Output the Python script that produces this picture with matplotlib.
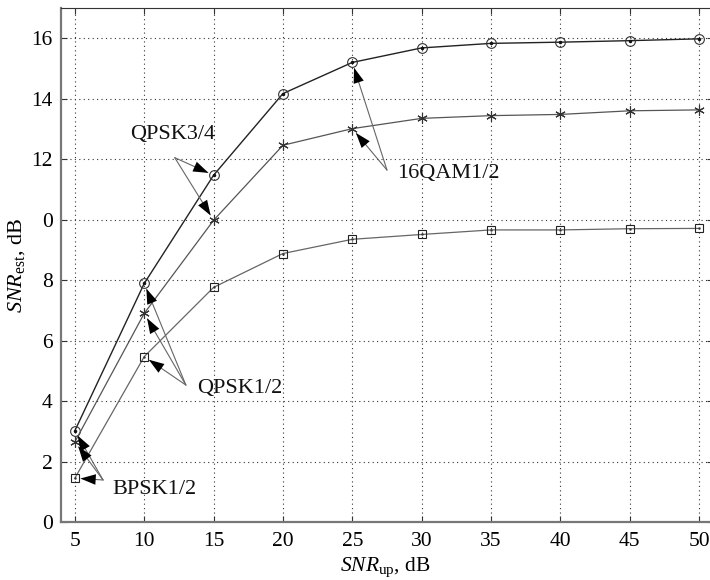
import matplotlib
matplotlib.use("Agg")
import matplotlib.pyplot as plt

# --- Data ---
snr_up = [5, 10, 15, 20, 25, 30, 35, 40, 45, 50]
snr_circle = [3.02, 7.89, 11.47, 14.17, 15.2, 15.68, 15.83, 15.87, 15.92, 15.98]
snr_star = [2.65, 6.9, 9.98, 12.46, 13.01, 13.35, 13.44, 13.48, 13.6, 13.63]
snr_square = [1.45, 5.47, 7.76, 8.88, 9.35, 9.51, 9.66, 9.66, 9.70, 9.71]

y_ticks = [0, 2, 4, 6, 8, 10, 12, 14, 16]
y_tick_labels = ["0", "2", "4", "6", "8", "0", "12", "14", "16"]
x_ticks = [5, 10, 15, 20, 25, 30, 35, 40, 45, 50]

plt.rcParams["font.family"] = ["Liberation Serif", "DejaVu Serif"]
plt.rcParams["mathtext.fontset"] = "custom"
plt.rcParams["mathtext.rm"] = "Liberation Serif"
plt.rcParams["mathtext.it"] = "Liberation Serif:italic"

fig = plt.figure(figsize=(7.1, 5.8), dpi=100)
ax = fig.add_axes([61 / 710, 58 / 580, 652 / 710, 514 / 580])

# --- Curves ---
ax.plot(snr_up, snr_circle, color="#222222", lw=1.0, marker="o", ms=7,
        mfc="none", mec="#333333", mew=0.8, zorder=3)
ax.plot(snr_up, snr_circle, ls="none", marker=".", ms=3, color="#111111", zorder=4)
ax.plot(snr_up, snr_star, color="#555555", lw=0.9, marker=(6, 2, 0), ms=7.5,
        mec="#333333", mew=0.8, zorder=3)
ax.plot(snr_up, snr_square, color="#666666", lw=0.9, marker="s", ms=5.5,
        mfc="none", mec="#222222", mew=0.8, zorder=3)
ax.plot(snr_up, snr_square, ls="none", marker=".", ms=1.5, color="#333333", zorder=4)

# --- Annotations: gray shaft + black head ---
shaft = dict(arrowstyle="-", color="#666666", lw=0.8, shrinkA=0, shrinkB=5)
head = dict(arrowstyle="-|>,head_length=1.1,head_width=0.38", fc="black",
            ec="none", lw=0, shrinkA=0, shrinkB=4)

def point(series, i):
    return (snr_up[i], series[i])

labels = [
    ("QPSK3/4", (9.0, 12.8), (12.2, 12.05), [point(snr_circle, 2), point(snr_star, 2)]),
    ("16QAM1/2", (28.2, 11.54), (27.5, 11.64), [point(snr_circle, 4), point(snr_star, 4)]),
    ("QPSK1/2", (13.8, 4.43), (13.0, 4.53),
     [point(snr_circle, 1), point(snr_star, 1), point(snr_square, 1)]),
    ("BPSK1/2", (7.68, 1.06), (7.03, 1.39),
     [point(snr_circle, 0), point(snr_star, 0), point(snr_square, 0)]),
]
for text, text_pos, start, targets in labels:
    ax.text(text_pos[0], text_pos[1], text, fontsize=16, va="center", ha="left",
            color="#111111")
    for tgt in targets:
        ax.annotate("", xy=tgt, xytext=start, arrowprops=shaft, zorder=5)
        ax.annotate("", xy=tgt, xytext=start, arrowprops=head, zorder=6)

# --- Axes styling ---
ax.set_xlim(4, 51)
ax.set_ylim(0, 17)
ax.set_xticks(x_ticks)
ax.set_yticks(y_ticks)
ax.set_yticklabels(y_tick_labels)
ax.tick_params(direction="in", labelsize=15.5, top=True, right=True, length=4,
               color="#333333", pad=6)
ax.tick_params(axis="x", pad=7)
ax.grid(True, ls=(0, (1, 3)), color="#333333", lw=0.8)
for side in ["left", "bottom"]:
    ax.spines[side].set_color("#777777")
    ax.spines[side].set_linewidth(1.6)
ax.spines["top"].set_color("#333333")
ax.spines["top"].set_linewidth(0.8)

ax.set_xlabel(r"$SNR_{\rm up}$, dB", fontsize=15.5, va="baseline")
ax.set_ylabel(r"$SNR_{\rm est}$, dB", fontsize=16)
ax.xaxis.set_label_coords(0.498, -(571 - 522) / 514)
ax.yaxis.set_label_coords(-0.052, 0.5)

fig.savefig("out.png", dpi=100)
